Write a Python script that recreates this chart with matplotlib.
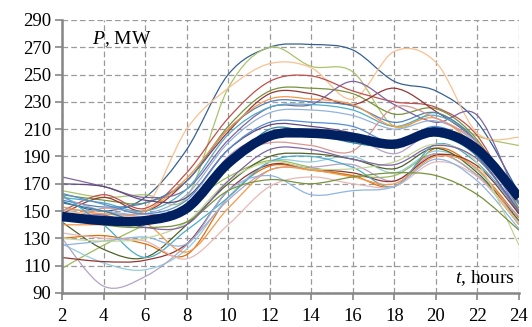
import numpy as np
import matplotlib
matplotlib.use('Agg')
import matplotlib.pyplot as plt
from matplotlib.path import Path
from matplotlib.patches import PathPatch

plt.rcParams['font.family'] = ['Liberation Serif', 'DejaVu Serif']
plt.rcParams['mathtext.fontset'] = 'custom'
plt.rcParams['mathtext.rm'] = 'Liberation Serif'
plt.rcParams['mathtext.it'] = 'Liberation Serif:italic'

hours = [2, 4, 6, 8, 10, 12, 14, 16, 18, 20, 22, 24]

# daily load curves, MW (read at even hours)
load_curves = [
    ('#376092', [157, 150, 160, 195, 250, 270, 272, 268, 245, 238, 215, 163]),
    ('#A9C46C', [165, 160, 162, 160, 240, 270, 256, 252, 212, 222, 205, 198]),
    ('#FAC090', [150, 148, 152, 210, 240, 258, 255, 232, 267, 259, 207, 204]),
    ('#C0504D', [150, 162, 152, 178, 218, 245, 249, 238, 230, 226, 205, 150]),
    ('#77933C', [162, 158, 156, 172, 212, 238, 240, 236, 221, 225, 202, 152]),
    ('#953735', [148, 160, 150, 172, 208, 236, 236, 228, 240, 223, 200, 156]),
    ('#8064A2', [175, 168, 160, 166, 202, 226, 228, 245, 228, 215, 220, 156]),
    ('#4BACC6', [160, 156, 150, 166, 206, 226, 228, 224, 212, 220, 200, 150]),
    ('#4F81BD', [158, 153, 156, 172, 210, 230, 230, 227, 215, 222, 200, 148]),
    ('#95B3D7', [151, 150, 148, 162, 200, 222, 224, 220, 210, 216, 198, 150]),
    ('#F79646', [153, 148, 150, 174, 210, 232, 232, 228, 212, 218, 196, 162]),
    ('#604A7B', [170, 168, 158, 160, 195, 213, 212, 207, 197, 210, 190, 150]),
    ('#B3A2C7', [160, 150, 146, 150, 190, 206, 210, 205, 192, 208, 190, 155]),
    ('#D99694', [142, 152, 148, 150, 188, 200, 198, 194, 226, 218, 200, 160]),
    ('#31859C', [156, 150, 142, 150, 182, 210, 207, 200, 197, 205, 190, 148]),
    ('#558ED5', [163, 155, 148, 158, 195, 215, 215, 212, 200, 212, 195, 155]),
    ('#9BBB59', [108, 125, 140, 155, 175, 187, 182, 176, 176, 192, 176, 140]),
    ('#E46C0A', [130, 132, 126, 118, 160, 183, 180, 176, 168, 196, 180, 145]),
    ('#93CDDD', [126, 112, 107, 122, 160, 186, 186, 190, 178, 194, 180, 142]),
    ('#B3A2C7', [130, 95, 102, 125, 158, 180, 182, 184, 172, 192, 176, 146]),
    ('#943634', [116, 113, 114, 126, 165, 184, 181, 178, 172, 191, 183, 148]),
    ('#4F6228', [142, 122, 116, 140, 170, 190, 192, 188, 181, 196, 178, 143]),
    ('#4BACC6', [162, 140, 116, 136, 160, 186, 190, 182, 168, 199, 185, 150]),
    ('#F79646', [140, 140, 141, 120, 152, 180, 180, 175, 170, 190, 181, 140]),
    ('#E6B9B8', [134, 130, 128, 115, 140, 168, 175, 170, 168, 186, 175, 141]),
    ('#8EB4E3', [125, 128, 131, 126, 165, 176, 162, 165, 168, 188, 172, 137]),
    ('#C3D69B', [130, 128, 130, 142, 172, 186, 181, 181, 186, 199, 185, 125]),
    ('#77933C', [148, 140, 138, 142, 165, 173, 170, 175, 178, 176, 162, 136]),
    ('#8064A2', [145, 147, 138, 140, 172, 195, 195, 188, 184, 198, 188, 150]),
]

mean_load = [146, 143, 143, 152, 185, 205, 207, 204, 199, 208, 195, 160]


def smooth_path(xs, ys):
    # Excel-style smoothed line: Catmull-Rom segments as cubic Beziers
    p = np.column_stack([xs, ys]).astype(float)
    verts = [p[0]]
    codes = [Path.MOVETO]
    n = len(p)
    for i in range(n - 1):
        p0 = p[i - 1] if i > 0 else p[i]
        p3 = p[i + 2] if i + 2 < n else p[i + 1]
        c1 = p[i] + (p[i + 1] - p0) / 6
        c2 = p[i + 1] - (p3 - p[i]) / 6
        verts += [c1, c2, p[i + 1]]
        codes += [Path.CURVE4] * 3
    return Path(verts, codes)


fig = plt.figure(figsize=(5.32, 3.27), dpi=100)
ax = fig.add_axes([0.1165, 0.104, 0.859, 0.835])

for color, vals in load_curves:
    ax.add_patch(PathPatch(smooth_path(hours, vals), fill=False,
                           edgecolor=color, lw=0.9, zorder=2))
ax.add_patch(PathPatch(smooth_path(hours, mean_load), fill=False,
                       edgecolor='#002060', lw=6.8, zorder=3,
                       capstyle='butt'))

ax.set_xlim(2, 24)
ax.set_ylim(90, 290)
ax.set_xticks(range(2, 25, 2))
ax.set_yticks(range(90, 291, 20))
ax.grid(True, color='#9a9a9a', linestyle=(0, (4.5, 2.5)), linewidth=0.9)
ax.set_axisbelow(True)

for s in ['top', 'right']:
    ax.spines[s].set_visible(False)
for s in ['left', 'bottom']:
    ax.spines[s].set_color('#868686')
    ax.spines[s].set_linewidth(1.8)
ax.tick_params(axis='both', direction='out', length=5, width=1.2,
               color='#868686', labelsize=13.5, pad=3)
ax.tick_params(axis='x', pad=6)

ax.text(0.065, 0.93, r'$P$, MW', transform=ax.transAxes, fontsize=14,
        va='center', ha='left')
ax.text(0.991, 0.055, r'$t$, hours', transform=ax.transAxes, fontsize=14,
        va='center', ha='right')

fig.savefig('out.png', dpi=100)
